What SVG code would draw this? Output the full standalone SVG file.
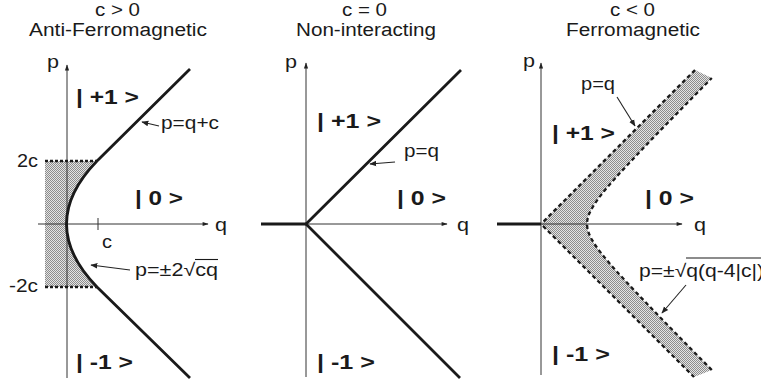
<svg xmlns="http://www.w3.org/2000/svg" width="761" height="385" viewBox="0 0 761 385">
<defs>
<pattern id="dots" width="2" height="2" patternUnits="userSpaceOnUse">
<rect width="2" height="2" fill="#e4e4e4"/>
<rect width="1" height="1" fill="#8c8c8c"/>
<rect x="1" y="1" width="1" height="1" fill="#8c8c8c"/>
</pattern>
<marker id="ah" viewBox="0 0 10 10" refX="9" refY="5" markerWidth="7" markerHeight="7" markerUnits="userSpaceOnUse" orient="auto">
<path d="M0,1 L10,5 L0,9 Z" fill="#222"/>
</marker>
<marker id="axh" viewBox="0 0 10 10" refX="9" refY="5" markerWidth="7" markerHeight="6" markerUnits="userSpaceOnUse" orient="auto">
<path d="M0,1.5 L10,5 L0,8.5 Z" fill="#222"/>
</marker>
</defs>
<style>
text{font-family:"Liberation Sans",Arial,sans-serif;fill:#1a1a1a;font-size:18px}
.st{font-weight:bold;font-size:21px}
.axis{stroke:#333;stroke-width:1;fill:none}
.curve{stroke:#1a1a1a;stroke-width:2.8;fill:none;stroke-linejoin:round}
.dot{stroke:#1a1a1a;stroke-width:2.6;stroke-dasharray:3 2;fill:none}
.dash{stroke:#1a1a1a;stroke-width:2.3;stroke-dasharray:4 3;fill:none}
.lead{stroke:#222;stroke-width:1.1;fill:none}
</style>

<g id="panel-afm">
<path d="M45,161 L97,161 Q36,224 97,287 L45,287 Z" fill="url(#dots)"/>
<line class="axis" x1="67" y1="378" x2="67" y2="65" marker-end="url(#axh)"/>
<line class="axis" x1="38" y1="224" x2="208" y2="224" marker-end="url(#axh)"/>
<line class="axis" x1="98" y1="218" x2="98" y2="230"/>
<line class="dot" x1="45" y1="161" x2="97" y2="161"/>
<line class="dot" x1="45" y1="287" x2="97" y2="287"/>
<path class="curve" d="M190,69 L97,161 Q36,224 97,287 L190,378"/>
<text x="95" y="16" textLength="45" lengthAdjust="spacingAndGlyphs">c &gt; 0</text>
<text x="29" y="36" textLength="178" lengthAdjust="spacingAndGlyphs">Anti-Ferromagnetic</text>
<text x="47" y="68" textLength="12" lengthAdjust="spacingAndGlyphs">p</text>
<text x="215" y="231" textLength="12" lengthAdjust="spacingAndGlyphs">q</text>
<text class="st" x="76" y="104" textLength="63" lengthAdjust="spacingAndGlyphs">| +1 &gt;</text>
<text class="st" x="135" y="205" textLength="48" lengthAdjust="spacingAndGlyphs">| 0 &gt;</text>
<text class="st" x="76" y="369" textLength="57" lengthAdjust="spacingAndGlyphs">| -1 &gt;</text>
<text x="161" y="129" textLength="58" lengthAdjust="spacingAndGlyphs">p=q+c</text>
<text x="17" y="167" textLength="21" lengthAdjust="spacingAndGlyphs">2c</text>
<text x="9" y="292" textLength="29" lengthAdjust="spacingAndGlyphs">-2c</text>
<text x="102" y="248" textLength="10" lengthAdjust="spacingAndGlyphs">c</text>
<text x="135" y="276" textLength="83" lengthAdjust="spacingAndGlyphs">p=±2√cq</text>
<line x1="195" y1="259.5" x2="218" y2="259.5" stroke="#1a1a1a" stroke-width="1.1"/>
</g>

<g id="panel-free">
<line class="axis" x1="306" y1="377" x2="306" y2="63" marker-end="url(#axh)"/>
<line class="axis" x1="306" y1="224" x2="447" y2="224" marker-end="url(#axh)"/>
<path class="curve" d="M261,224 L306,224"/>
<path class="curve" d="M461,70 L306,224 L460,378"/>
<text x="342" y="16" textLength="45" lengthAdjust="spacingAndGlyphs">c = 0</text>
<text x="296" y="36" textLength="140" lengthAdjust="spacingAndGlyphs">Non-interacting</text>
<text x="285" y="68" textLength="12" lengthAdjust="spacingAndGlyphs">p</text>
<text x="457" y="231" textLength="12" lengthAdjust="spacingAndGlyphs">q</text>
<text class="st" x="317" y="128" textLength="64" lengthAdjust="spacingAndGlyphs">| +1 &gt;</text>
<text class="st" x="397" y="205" textLength="49" lengthAdjust="spacingAndGlyphs">| 0 &gt;</text>
<text class="st" x="317" y="369" textLength="58" lengthAdjust="spacingAndGlyphs">| -1 &gt;</text>
<text x="404" y="157" textLength="35" lengthAdjust="spacingAndGlyphs">p=q</text>
</g>

<g id="panel-fm">
<path d="M695,70 L541,224 L694,377 L711.8,370 L696.0,354 L681.3,339 L666.6,324 L653.0,310 L639.6,296 L628.3,284 L619.0,274 L611.0,265 L604.2,257 L598.7,250 L594.5,244 L591.5,239 L589.1,234 L587.8,230 L587.2,227 L587,224 L587.2,221 L587.8,218 L589.1,214 L591.5,209 L594.5,204 L598.7,198 L604.2,191 L611.0,183 L619.0,174 L628.3,164 L639.6,152 L653.0,138 L666.6,124 L681.3,109 L696.0,94 L711.8,78 Z" fill="url(#dots)"/>
<line class="axis" x1="541" y1="375" x2="541" y2="63" marker-end="url(#axh)"/>
<line class="axis" x1="541" y1="224" x2="682" y2="224" marker-end="url(#axh)"/>
<path class="curve" d="M497,224 L541,224"/>
<path class="dash" d="M695,70 L543,222 M543,226 L694,377"/>
<path class="dash" d="M711.8,370 L696.0,354 L681.3,339 L666.6,324 L653.0,310 L639.6,296 L628.3,284 L619.0,274 L611.0,265 L604.2,257 L598.7,250 L594.5,244 L591.5,239 L589.1,234 L587.8,230 L587.2,227 L587,224 L587.2,221 L587.8,218 L589.1,214 L591.5,209 L594.5,204 L598.7,198 L604.2,191 L611.0,183 L619.0,174 L628.3,164 L639.6,152 L653.0,138 L666.6,124 L681.3,109 L696.0,94 L711.8,78"/>
<text x="610" y="16" textLength="45" lengthAdjust="spacingAndGlyphs">c &lt; 0</text>
<text x="566" y="36" textLength="134" lengthAdjust="spacingAndGlyphs">Ferromagnetic</text>
<text x="523" y="67" textLength="12" lengthAdjust="spacingAndGlyphs">p</text>
<text x="694" y="231" textLength="12" lengthAdjust="spacingAndGlyphs">q</text>
<text class="st" x="552" y="140" textLength="63" lengthAdjust="spacingAndGlyphs">| +1 &gt;</text>
<text class="st" x="645" y="205" textLength="49" lengthAdjust="spacingAndGlyphs">| 0 &gt;</text>
<text class="st" x="552" y="361" textLength="58" lengthAdjust="spacingAndGlyphs">| -1 &gt;</text>
<text x="581" y="90" textLength="34" lengthAdjust="spacingAndGlyphs">p=q</text>
<text x="639" y="277" textLength="125" lengthAdjust="spacingAndGlyphs">p=±√q(q-4|c|)</text>
<line x1="686" y1="258" x2="761" y2="258" stroke="#1a1a1a" stroke-width="1.1"/>
</g>

<g id="connectors">
<line class="lead" x1="159" y1="126" x2="142" y2="122" marker-end="url(#ah)"/>
<line class="lead" x1="130" y1="270" x2="91" y2="265" marker-end="url(#ah)"/>
<line class="lead" x1="395" y1="162" x2="370" y2="164" marker-end="url(#ah)"/>
<line class="lead" x1="617" y1="97" x2="635" y2="126" marker-end="url(#ah)"/>
<line class="lead" x1="686" y1="285" x2="662" y2="313" marker-end="url(#ah)"/>
</g>
</svg>
